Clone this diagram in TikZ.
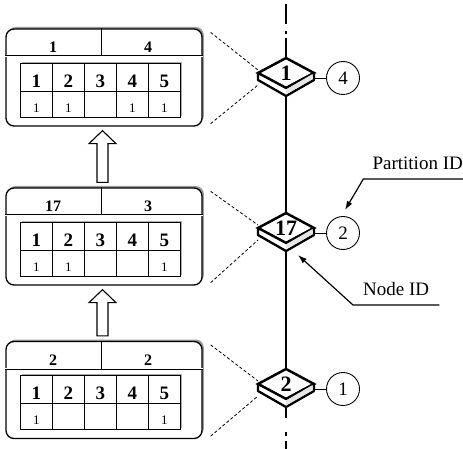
\documentclass[tikz,border=0pt]{standalone}
\usepackage{fontspec}
\setmainfont{Liberation Serif}
\usetikzlibrary{positioning, shapes.geometric, shadows, arrows.meta}
\tikzset{
    pbox/.style={rectangle, rounded corners=8pt, draw, line width=1.3pt, fill=white, minimum width=196pt, minimum height=97pt, general shadow={fill=gray!80, shadow xshift=1.8pt, shadow yshift=2pt}},
    hdr/.style={font=\fontsize{16}{16}\selectfont\bfseries, inner sep=0pt},
    cell/.style={rectangle, draw, line width=1.1pt, fill=white, minimum width=32pt, minimum height=28pt, inner sep=0pt, text height=20pt, text depth=0pt, font=\fontsize{19}{19}\selectfont\bfseries},
    bitcell/.style={cell, minimum height=26pt, text height=16pt, font=\fontsize{13}{13}\selectfont},
    tabshade/.style={fill=gray!65},
    sensor/.style={diamond, draw, line width=2.5pt, fill=white, aspect=1.87, minimum width=56pt, minimum height=30pt, inner sep=0pt, outer sep=0pt, font=\fontsize{22}{22}\selectfont\bfseries},
    side/.style={draw, line width=2.3pt, line join=round, fill=white},
    partid/.style={circle, draw, line width=0.9pt, minimum size=33pt, inner sep=0pt, font=\fontsize{19}{19}\selectfont},
    link/.style={dash pattern=on 3pt off 2.2pt, line width=0.8pt},
    hollow/.style={draw, line width=1.1pt, fill=white, line join=miter},
    note/.style={font=\fontsize{19}{19}\selectfont, inner sep=0pt},
    pointer/.style={line width=1.2pt, -{Latex[length=9pt,width=6pt]}},
}
\begin{document}
\begin{tikzpicture}[x=1pt, y=-1pt]
\useasboundingbox (0,0) rectangle (463,449);

% bit vector snapshots
\node[pbox] (box1) at (104,77.5) {};
\node[pbox] (box17) at (104,236.5) {};
\node[pbox] (box2) at (104,390) {};
\foreach \b/\l/\r/\bits in {box1/1/4/{1,1,{},1,1}, box17/17/3/{1,1,{},{},1}, box2/2/2/{1,{},{},{},1}} {
    \draw[line width=0.7pt, double, double distance=0.9pt] ([yshift=-28pt]\b.north west) -- ([yshift=-28pt]\b.north east);
    \draw[line width=0.9pt] ([xshift=-3pt]\b.north) -- ([xshift=-3pt,yshift=-28pt]\b.north);
    \node[hdr] (\b-l) at ([xshift=-51pt,yshift=-19pt]\b.north) {\l};
    \node[hdr] (\b-r) at ([xshift=44pt,yshift=-19pt]\b.north) {\r};
    \fill[tabshade] ([xshift=17pt,yshift=-33.5pt]\b.north west) rectangle ([xshift=177pt,yshift=-87.5pt]\b.north west);
    \foreach \v [count=\i] in \bits {
        \node[cell] (\b-h\i) at ([xshift=32*\i-1, yshift=-49]\b.north west) {\i};
        \node[bitcell] (\b-v\i) at ([xshift=32*\i-1, yshift=-76]\b.north west) {\v};
    }
}

% update arrows
\foreach \lo/\up in {box17/box1, box2/box17}
    \draw[hollow] ([xshift=-7pt,yshift=5pt]\lo.north) -- ([xshift=-7pt,yshift=-17pt]\up.south) -- ([xshift=-15pt,yshift=-17pt]\up.south) -- ([xshift=-1.5pt,yshift=-4pt]\up.south) -- ([xshift=12pt,yshift=-17pt]\up.south) -- ([xshift=4pt,yshift=-17pt]\up.south) -- ([xshift=4pt,yshift=5pt]\lo.north) -- cycle;

% sensor nodes
\node[sensor] (n1) at (286,73) {1};
\node[sensor] (n17) at (286,228) {17};
\node[sensor] (n2) at (286,384) {2};
\foreach \n in {n1,n17,n2} {
    \draw[side] (\n.west) -- ([yshift=-7pt]\n.west) -- ([yshift=-8pt]\n.south) -- ([yshift=-7pt]\n.east) -- (\n.east) -- (\n.south) -- cycle;
    \fill[gray!20] ([yshift=-1.5pt]\n.south) -- ([yshift=-6.5pt]\n.south) -- ([xshift=-1.5pt,yshift=-6pt]\n.east) -- ([xshift=-1.5pt,yshift=-1pt]\n.east) -- cycle;
}
\node[partid] (p1) at (343,78) {4};
\node[partid] (p17) at (343,233) {2};
\node[partid] (p2) at (343,389) {1};
\draw[line width=0.9pt] (p1.west) -- (p1.west -| n1.east);
\draw[line width=0.9pt] (p17.west) -- (p17.west -| n17.east);
\draw[line width=0.9pt] (p2.west) -- (p2.west -| n2.east);

% the chain
\coordinate (top) at (286,4);
\coordinate (bottom) at (286,449);
\draw[line width=1.1pt, dash pattern=on 20pt off 4pt on 3pt off 7pt] (n1.north) -- (top);
\draw[line width=1.1pt] ([yshift=-8pt]n1.south) -- (n17.north);
\draw[line width=1.1pt] ([yshift=-8pt]n17.south) -- (n2.north);
\draw[line width=1.1pt, dash pattern=on 11pt off 14pt on 4pt off 5pt] ([yshift=-8pt]n2.south) -- (bottom);

% box to sensor
\foreach \b/\n in {box1/n1, box17/n17, box2/n2} {
    \draw[link] ([xshift=8pt,yshift=-4pt]\b.north east) -- ([yshift=3pt]\n.west);
    \draw[link] ([xshift=8pt,yshift=3pt]\b.south east) -- ([yshift=-12pt]\n.west);
}

% labels
\node[note, anchor=base east] (partlbl) at (463,170) {Partition ID};
\draw[pointer] ([yshift=-9pt]partlbl.base east) -- ([xshift=-9pt,yshift=-9pt]partlbl.base west) -- ([xshift=2pt,yshift=6pt]p17.north);
\node[note, anchor=base west] (nodelbl) at (363,295) {Node ID};
\draw[pointer] ([xshift=10pt,yshift=-10pt]nodelbl.base east) -- ([xshift=-10pt,yshift=-10pt]nodelbl.base west) -- ([xshift=12pt,yshift=-12pt]n17.south);
\end{tikzpicture}
\end{document}
